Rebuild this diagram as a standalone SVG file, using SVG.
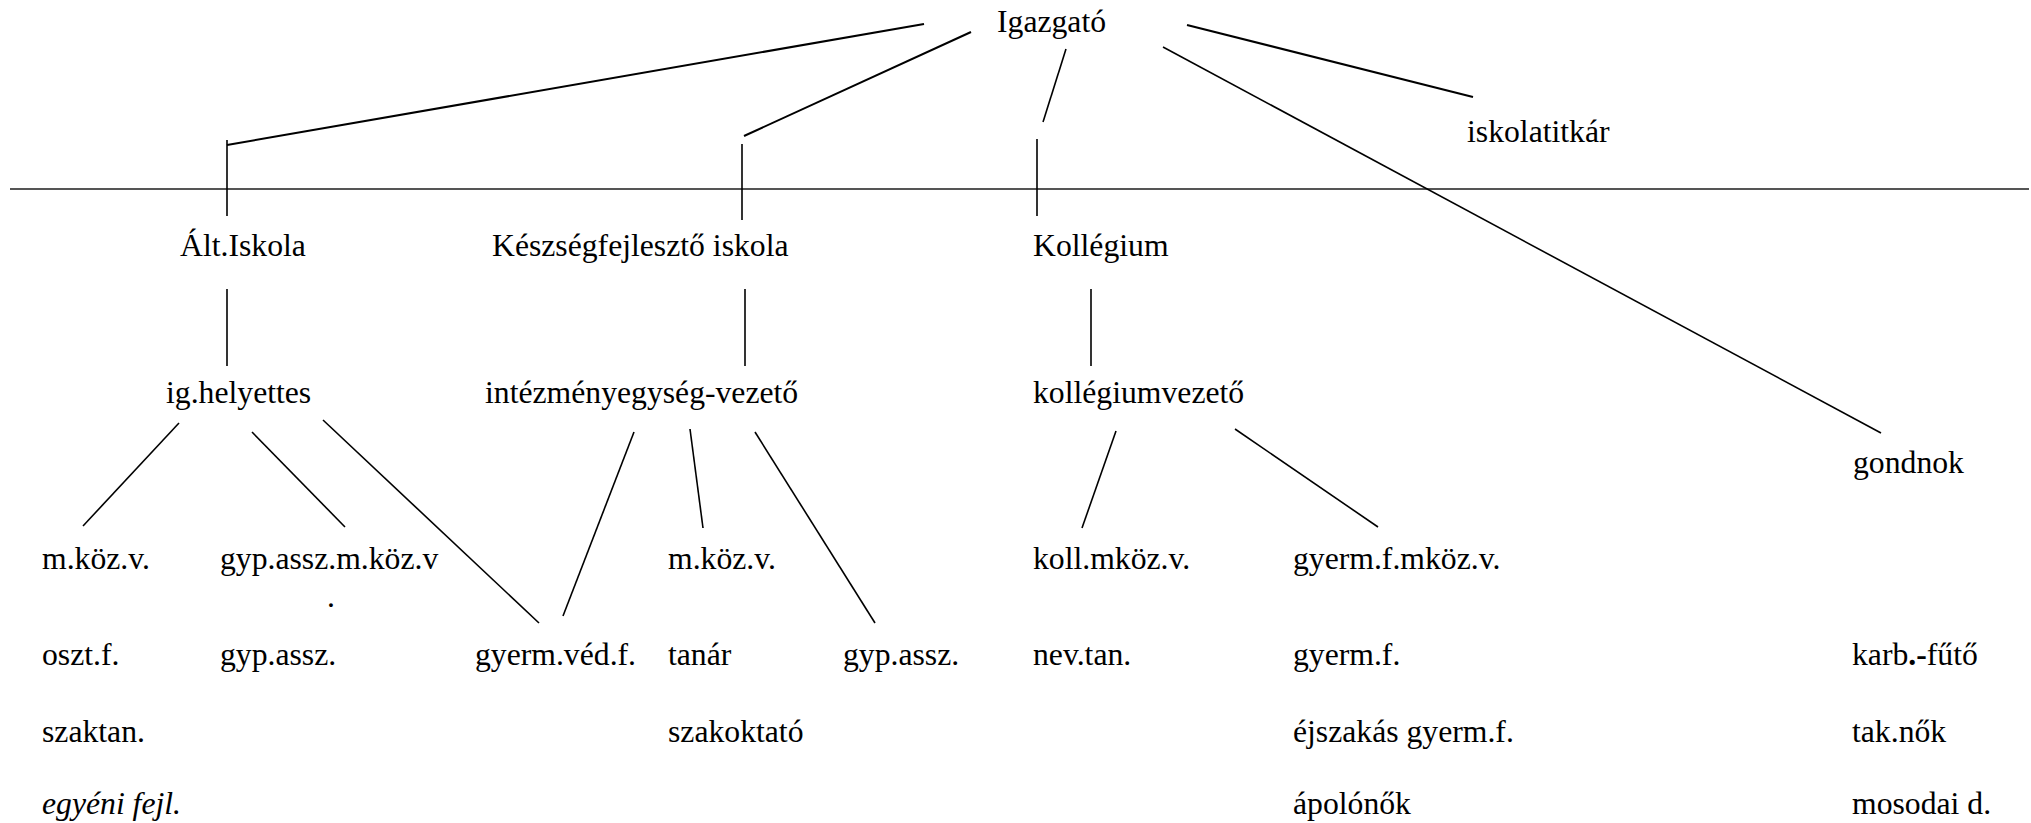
<svg xmlns="http://www.w3.org/2000/svg" width="2031" height="823" viewBox="0 0 2031 823">
<style>
text{font-family:'Liberation Serif','DejaVu Serif',serif;font-size:31.7px;fill:#000}
.c line{stroke:#000;stroke-width:1.6;fill:none}
.c line.t{stroke-width:2}
.sep{stroke:#555;stroke-width:2.2}
</style>
<rect width="2031" height="823" fill="#fff"/>
<line class="sep" x1="10" y1="189" x2="2029" y2="189"/>
<g class="c" id="connectors">
<line class="t" x1="924" y1="24" x2="227" y2="145"/>
<line x1="227" y1="140" x2="227" y2="216"/>
<line class="t" x1="971" y1="32" x2="744" y2="136"/>
<line x1="742" y1="144" x2="742" y2="220"/>
<line x1="1066" y1="49" x2="1043" y2="122"/>
<line x1="1037" y1="139" x2="1037" y2="216"/>
<line class="t" x1="1187" y1="25" x2="1473" y2="97"/>
<line x1="1163" y1="47" x2="1881" y2="433"/>
<line x1="227" y1="289" x2="227" y2="366"/>
<line x1="745" y1="289" x2="745" y2="366"/>
<line x1="1091" y1="289" x2="1091" y2="366"/>
<line x1="179" y1="423" x2="83" y2="526"/>
<line x1="252" y1="432" x2="345" y2="527"/>
<line x1="323" y1="420" x2="539" y2="623"/>
<line x1="634" y1="432" x2="563" y2="616"/>
<line x1="690" y1="429" x2="703" y2="528"/>
<line x1="755" y1="432" x2="875" y2="623"/>
<line x1="1116" y1="431" x2="1082" y2="528"/>
<line x1="1235" y1="429" x2="1378" y2="527"/>
</g>
<g font-family="Liberation Serif, serif">
<g id="igazgato"><text x="997" y="32">Igazgató</text></g>
<g id="iskolatitkar"><text x="1467" y="142">iskolatitkár</text></g>
<g id="alt-iskola"><text x="180" y="256">Ált.Iskola</text></g>
<g id="keszsegfejleszto"><text x="492" y="256">Készségfejlesztő iskola</text></g>
<g id="kollegium"><text x="1033" y="256">Kollégium</text></g>
<g id="ig-helyettes"><text x="166" y="403">ig.helyettes</text></g>
<g id="intezmenyegyseg"><text x="485" y="403">intézményegység-vezető</text></g>
<g id="kollegiumvezeto"><text x="1033" y="403">kollégiumvezető</text></g>
<g id="gondnok"><text x="1853" y="473">gondnok</text></g>
<g id="alt-staff">
<text x="42" y="569">m.köz.v.</text>
<text x="42" y="665">oszt.f.</text>
<text x="42" y="742">szaktan.</text>
<text x="42" y="814" font-style="italic">egyéni fejl.</text>
</g>
<g id="gyp-staff">
<text x="220" y="569">gyp.assz.m.köz.v</text>
<text x="327" y="607">.</text>
<text x="220" y="665">gyp.assz.</text>
</g>
<g id="gyerm-ved"><text x="475" y="665">gyerm.véd.f.</text></g>
<g id="keszseg-staff">
<text x="668" y="569">m.köz.v.</text>
<text x="668" y="665">tanár</text>
<text x="668" y="742">szakoktató</text>
</g>
<g id="keszseg-gyp"><text x="843" y="665">gyp.assz.</text></g>
<g id="koll-staff">
<text x="1033" y="569">koll.mköz.v.</text>
<text x="1033" y="665">nev.tan.</text>
</g>
<g id="gyerm-staff">
<text x="1293" y="569">gyerm.f.mköz.v.</text>
<text x="1293" y="665">gyerm.f.</text>
<text x="1293" y="742">éjszakás gyerm.f.</text>
<text x="1293" y="814">ápolónők</text>
</g>
<g id="gondnok-staff">
<text x="1852" y="665">karb<tspan font-weight="bold">.-</tspan>fűtő</text>
<text x="1852" y="742">tak.nők</text>
<text x="1852" y="814">mosodai d.</text>
</g>
</g>
</svg>
